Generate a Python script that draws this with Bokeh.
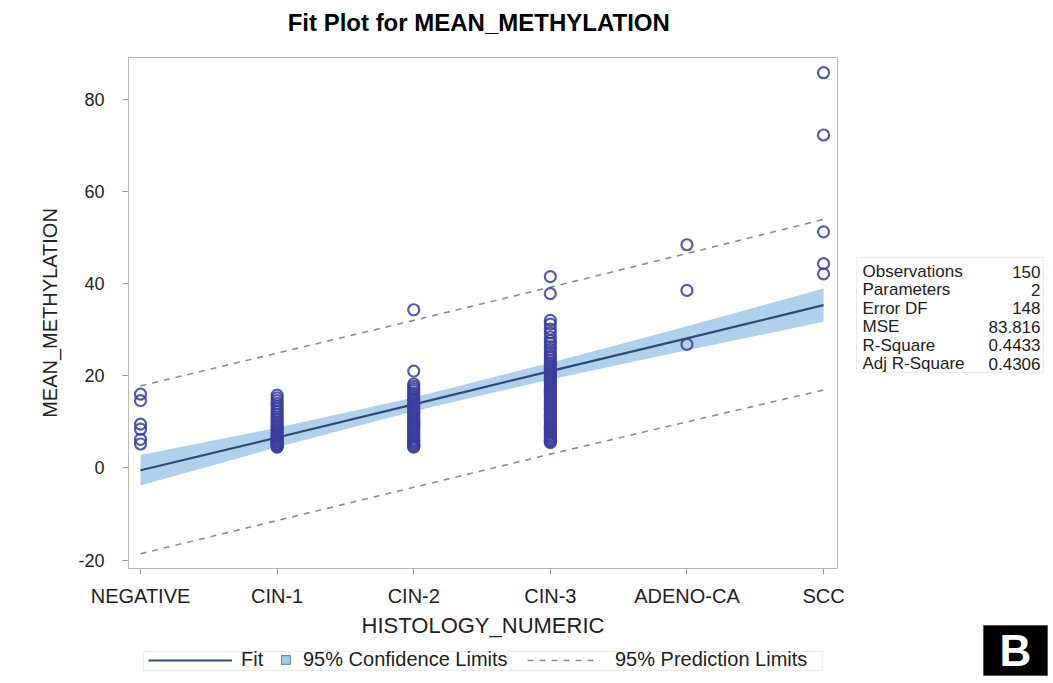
import numpy as np
from bokeh.plotting import figure
from bokeh.layouts import row, column
from bokeh.models import (ColumnDataSource, FixedTicker, Range1d, Label,
                          BoxAnnotation, Legend, LegendItem)
from bokeh.embed import file_html
from bokeh.resources import INLINE

# ---------------- data ----------------
categories = ["NEGATIVE", "CIN-1", "CIN-2", "CIN-3", "ADENO-CA", "SCC"]

neg_values = [16.0, 14.6, 9.5, 8.4, 6.2, 5.2]
cin1_values = [15.8, 15.2, 14.6, 14.0, 13.4, 12.8, 12.2, 11.6, 11.0, 10.5,
               10.0, 9.6, 9.2, 8.8, 8.4, 8.0, 7.6, 7.2, 6.9, 6.6,
               6.3, 6.0, 5.8, 5.6, 5.4, 5.2, 5.0, 4.8, 4.6, 4.5]
cin2_values = [34.3, 21.0, 18.2, 17.7, 17.2, 16.8, 16.3, 15.9, 15.4, 15.0,
               14.6, 14.1, 13.7, 13.3, 12.9, 12.5, 12.1, 11.7, 11.3, 10.9,
               10.5, 10.1, 9.7, 9.3, 8.9, 8.5, 8.1, 7.7, 7.3, 6.9,
               6.5, 6.1, 5.8, 5.5, 5.2, 4.9, 4.7, 4.5, 12.0, 9.0]
cin3_values = [41.5, 37.8,
               32.0, 31.2, 30.1, 29.3, 28.4, 27.6, 27.0, 26.3, 25.7, 25.0,
               24.4, 23.9, 23.3, 22.8, 22.3, 21.8, 21.4, 21.0, 20.6, 20.2,
               19.8, 19.4, 19.0, 18.6, 18.2, 17.8, 17.4, 17.0, 16.6, 16.2,
               15.8, 15.4, 15.0, 14.6, 14.2, 13.8, 13.4, 13.0, 12.6, 12.2,
               11.8, 11.4, 11.0, 10.6, 10.2, 9.8, 9.4, 9.0, 8.6, 8.2,
               7.9, 7.6, 7.3, 7.0, 6.7, 6.4, 6.1, 5.9, 5.7, 5.5,
               12.9, 16.9, 19.1, 8.8]
adeno_values = [48.4, 38.5, 26.8]
scc_values = [85.7, 72.2, 51.2, 44.3, 42.1]

fit_y = [-0.5, 6.6, 13.8, 21.0, 28.1, 35.3]
ci_lower = [-3.8, 4.5, 12.3, 19.2, 25.5, 31.7]
ci_upper = [2.8, 8.7, 15.3, 22.8, 30.7, 38.9]
pi_lower = [-18.6, -11.4, -4.2, 3.0, 10.0, 16.9]
pi_upper = [17.8, 24.9, 32.0, 39.2, 46.5, 53.9]

y_ticks = [-20, 0, 20, 40, 60, 80]
y_tick_labels = ["-20", "0", "20", "40", "60", "80"]

stat_names = ["Observations", "Parameters", "Error DF", "MSE", "R-Square", "Adj R-Square"]
stat_values = ["150", "2", "148", "83.816", "0.4433", "0.4306"]

legend_labels = ["Fit", "95% Confidence Limits", "95% Prediction Limits"]
title_text = "Fit Plot for MEAN_METHYLATION"
x_title = "HISTOLOGY_NUMERIC"
y_title = "MEAN_METHYLATION"
panel_letter = "B"

# ---------------- styles ----------------
FONT = "Liberation Sans"
TXT = "#222222"
BAND = "#a9cbea"
BAND_EDGE = "#6f8db5"
FIT_C = "#2f4d74"
PRED_C = "#8c8c8c"
PT_C = "#3a3d9c"
BOX_C = "#c4c4c4"

# ---------------- sources ----------------
groups = [neg_values, cin1_values, cin2_values, cin3_values, adeno_values, scc_values]
px, py = [], []
for i, vals in enumerate(groups):
    px += [i] * len(vals)
    py += list(vals)
pts = ColumnDataSource(dict(x=px, y=py))
xpos = list(range(len(categories)))
fit_src = ColumnDataSource(dict(x=xpos, fit=fit_y, cil=ci_lower, ciu=ci_upper,
                                pil=pi_lower, piu=pi_upper))


def blank_fig(w, h):
    f = figure(width=w, height=h, output_backend="svg", toolbar_location=None,
               x_range=Range1d(0, 1), y_range=Range1d(0, 1),
               x_axis_type=None, y_axis_type=None, min_border=0)
    f.outline_line_color = None
    f.grid.visible = False
    return f


# ---------------- title strip (frame aligns with the plot frame) ----------------
tf = blank_fig(845, 42)
tf.add_layout(Label(x=0.494, y=20, y_units="screen", text=title_text,
                    text_font=FONT, text_font_size="24px", text_font_style="bold",
                    text_color="black", text_align="center", text_baseline="middle"))

# ---------------- main plot ----------------
p = figure(width=845, height=598, output_backend="svg", toolbar_location=None,
           x_range=Range1d(-0.088, 5.102), y_range=Range1d(-21.8, 89.0),
           min_border_left=128, min_border_right=8,
           min_border_top=15, min_border_bottom=70)
p.background_fill_color = "white"
p.border_fill_color = "white"
p.outline_line_color = "#b8b8b8"
p.grid.visible = False

p.xaxis.ticker = FixedTicker(ticks=xpos)
p.xaxis.major_label_overrides = {i: c for i, c in enumerate(categories)}
p.yaxis.ticker = FixedTicker(ticks=y_ticks)
p.yaxis.major_label_overrides = {t: s for t, s in zip(y_ticks, y_tick_labels)}
for ax in (p.xaxis, p.yaxis):
    ax.axis_line_color = "#b8b8b8"
    ax.major_tick_line_color = "#9a9a9a"
    ax.major_tick_out = 6
    ax.major_tick_in = 0
    ax.minor_tick_line_color = None
    ax.major_label_text_font = FONT
    ax.major_label_text_color = TXT
    ax.axis_label_text_font = FONT
    ax.axis_label_text_font_style = "normal"
    ax.axis_label_text_color = TXT
p.xaxis.major_label_text_font_size = "20px"
p.yaxis.major_label_text_font_size = "18px"
p.xaxis.axis_label_text_font_size = "22px"
p.yaxis.axis_label_text_font_size = "20px"
p.xaxis.major_label_standoff = 10
p.yaxis.major_label_standoff = 18
p.xaxis.axis_label = x_title
p.yaxis.axis_label = y_title
p.xaxis.axis_label_standoff = 3
p.yaxis.axis_label_standoff = 14

p.varea(x="x", y1="cil", y2="ciu", source=fit_src, fill_color=BAND, fill_alpha=0.9)
p.line(x="x", y="piu", source=fit_src, line_color=PRED_C, line_width=1.6, line_dash="6 6")
p.line(x="x", y="pil", source=fit_src, line_color=PRED_C, line_width=1.6, line_dash="6 6")
p.line(x="x", y="fit", source=fit_src, line_color=FIT_C, line_width=2.2)
p.scatter(x="x", y="y", source=pts, marker="circle", size=11, fill_color=None,
          line_color=PT_C, line_width=2.2, line_alpha=0.85)

# ---------------- legend strip (below the plot) ----------------
lf = blank_fig(845, 40)
nan = [np.nan]
lr_fit = lf.line(x=nan, y=nan, line_color=FIT_C, line_width=2.2)
lr_ci = lf.quad(left=nan, right=nan, top=nan, bottom=nan,
                fill_color=BAND, line_color=BAND_EDGE, line_width=1.2)
lr_pi = lf.line(x=nan, y=nan, line_color=PRED_C, line_width=1.6, line_dash="6 6")

lf.add_layout(BoxAnnotation(left=15, right=694, bottom=10, top=29,
                            left_units="screen", right_units="screen",
                            top_units="screen", bottom_units="screen",
                            fill_alpha=0, line_color=BOX_C, line_width=1))


def mk_legend(fig, renderer, label, x, y, gw, gh, standoff):
    lg = Legend(items=[LegendItem(label=label, renderers=[renderer])],
                location=(x, y), orientation="horizontal",
                glyph_width=gw, glyph_height=gh, label_standoff=standoff,
                padding=0, margin=0, spacing=0, border_line_color=None,
                background_fill_alpha=0, label_text_font=FONT,
                label_text_font_size="20px", label_height=gh,
                label_text_color=TXT)
    fig.add_layout(lg, "center")


mk_legend(lf, lr_fit, legend_labels[0], 20, 9, 84, 20, 9)
mk_legend(lf, lr_ci, legend_labels[1], 152, 9, 11, 11, 12)
mk_legend(lf, lr_pi, legend_labels[2], 399, 9, 73, 20, 15)

# ---------------- right strip: fit statistics + panel letter ----------------
rf = blank_fig(205, 680)
rf.add_layout(BoxAnnotation(left=11, right=198, bottom=308, top=423,
                            left_units="screen", right_units="screen",
                            top_units="screen", bottom_units="screen",
                            fill_color="white", fill_alpha=1,
                            line_color=BOX_C, line_width=1))
for i, (n, v) in enumerate(zip(stat_names, stat_values)):
    yy = 409 - 18.4 * i
    rf.add_layout(Label(x=17, y=yy, x_units="screen", y_units="screen", text=n,
                        text_font=FONT, text_font_size="17px", text_color=TXT,
                        text_align="left", text_baseline="middle"))
    rf.add_layout(Label(x=195, y=yy, x_units="screen", y_units="screen", text=v,
                        text_font=FONT, text_font_size="17px", text_color=TXT,
                        text_align="right", text_baseline="middle"))

rf.add_layout(BoxAnnotation(left=138, right=202, bottom=5, top=55,
                            left_units="screen", right_units="screen",
                            top_units="screen", bottom_units="screen",
                            fill_color="black", fill_alpha=1, line_color="black"))
rf.add_layout(Label(x=170, y=30, x_units="screen", y_units="screen", text=panel_letter,
                    text_font=FONT, text_font_size="44px", text_font_style="bold",
                    text_color="white", text_align="center", text_baseline="middle"))

layout = row(column(tf, p, lf), rf)
open("out.html", "w").write(file_html(layout, INLINE))
